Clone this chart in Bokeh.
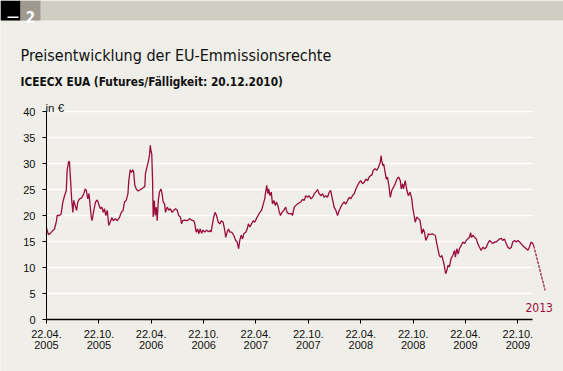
import pandas as pd
from bokeh.plotting import figure
from bokeh.models import Label, BoxAnnotation, Range1d, FixedTicker
from bokeh.embed import file_html
from bokeh.resources import INLINE

# ---------------- data ----------------
dates = [
    "2005-04-22", "2005-04-29", "2005-05-06", "2005-05-14", "2005-05-20", "2005-05-27", "2005-05-29",
    "2005-06-06", "2005-06-12", "2005-06-18", "2005-06-24", "2005-06-30", "2005-07-03", "2005-07-08",
    "2005-07-11", "2005-07-15", "2005-07-19", "2005-07-23", "2005-07-26", "2005-07-31", "2005-08-05",
    "2005-08-09", "2005-08-15", "2005-08-23", "2005-08-30", "2005-09-04", "2005-09-08", "2005-09-13",
    "2005-09-17", "2005-09-20", "2005-09-25", "2005-09-28", "2005-10-04", "2005-10-10", "2005-10-16",
    "2005-10-21", "2005-10-27", "2005-11-01", "2005-11-06", "2005-11-10", "2005-11-15", "2005-11-20",
    "2005-11-25", "2005-11-30", "2005-12-06", "2005-12-11", "2005-12-18", "2005-12-25", "2006-01-02",
    "2006-01-08", "2006-01-14", "2006-01-19", "2006-01-25", "2006-01-31", "2006-02-03", "2006-02-08",
    "2006-02-12", "2006-02-17", "2006-02-20", "2006-02-24", "2006-03-01", "2006-03-08", "2006-03-16",
    "2006-03-24", "2006-03-31", "2006-04-02", "2006-04-07", "2006-04-12", "2006-04-16", "2006-04-19",
    "2006-04-22", "2006-04-24", "2006-04-27", "2006-04-29", "2006-05-03", "2006-05-06", "2006-05-10",
    "2006-05-13", "2006-05-17", "2006-05-21", "2006-05-26", "2006-05-30", "2006-06-03", "2006-06-08",
    "2006-06-11", "2006-06-17", "2006-06-23", "2006-06-28", "2006-07-04", "2006-07-10", "2006-07-16",
    "2006-07-22", "2006-07-27", "2006-08-02", "2006-08-06", "2006-08-10", "2006-08-17", "2006-08-26",
    "2006-09-03", "2006-09-10", "2006-09-17", "2006-09-21", "2006-09-26", "2006-10-01", "2006-10-05",
    "2006-10-10", "2006-10-15", "2006-10-20", "2006-10-26", "2006-11-01", "2006-11-07", "2006-11-15",
    "2006-11-17", "2006-11-22", "2006-11-26", "2006-12-01", "2006-12-06", "2006-12-12", "2006-12-17",
    "2006-12-23", "2006-12-29", "2007-01-03", "2007-01-07", "2007-01-12", "2007-01-17", "2007-01-21",
    "2007-01-28", "2007-02-04", "2007-02-11", "2007-02-16", "2007-02-21", "2007-02-25", "2007-03-02",
    "2007-03-07", "2007-03-11", "2007-03-18", "2007-03-23", "2007-03-27", "2007-04-01", "2007-04-07",
    "2007-04-13", "2007-04-18", "2007-04-24", "2007-04-30", "2007-05-06", "2007-05-12", "2007-05-18",
    "2007-05-23", "2007-05-27", "2007-05-30", "2007-06-03", "2007-06-06", "2007-06-10", "2007-06-15",
    "2007-06-19", "2007-06-24", "2007-06-29", "2007-07-03", "2007-07-08", "2007-07-13", "2007-07-17",
    "2007-07-22", "2007-07-29", "2007-08-04", "2007-08-09", "2007-08-16", "2007-08-24", "2007-08-28",
    "2007-09-03", "2007-09-08", "2007-09-14", "2007-09-20", "2007-09-26", "2007-10-02", "2007-10-08",
    "2007-10-13", "2007-10-19", "2007-10-25", "2007-10-31", "2007-11-06", "2007-11-12", "2007-11-17",
    "2007-11-23", "2007-11-29", "2007-12-05", "2007-12-11", "2007-12-16", "2007-12-22", "2007-12-28",
    "2008-01-03", "2008-01-08", "2008-01-14", "2008-01-20", "2008-01-26", "2008-02-01", "2008-02-07",
    "2008-02-12", "2008-02-18", "2008-02-24", "2008-03-01", "2008-03-07", "2008-03-13", "2008-03-18",
    "2008-03-24", "2008-03-30", "2008-04-05", "2008-04-11", "2008-04-17", "2008-04-22", "2008-04-28",
    "2008-05-04", "2008-05-10", "2008-05-16", "2008-05-21", "2008-05-27", "2008-05-30", "2008-06-05",
    "2008-06-11", "2008-06-17", "2008-06-23", "2008-06-29", "2008-07-02", "2008-07-04", "2008-07-08",
    "2008-07-11", "2008-07-16", "2008-07-20", "2008-07-24", "2008-07-29", "2008-08-03", "2008-08-08",
    "2008-08-14", "2008-08-20", "2008-08-26", "2008-09-01", "2008-09-07", "2008-09-10", "2008-09-15",
    "2008-09-18", "2008-09-24", "2008-09-30", "2008-10-05", "2008-10-11", "2008-10-17", "2008-10-20",
    "2008-10-25", "2008-10-29", "2008-11-03", "2008-11-09", "2008-11-15", "2008-11-21", "2008-11-26",
    "2008-11-30", "2008-12-05", "2008-12-10", "2008-12-14", "2008-12-20", "2008-12-26", "2009-01-02",
    "2009-01-07", "2009-01-11", "2009-01-16", "2009-01-21", "2009-01-25", "2009-01-30", "2009-02-05",
    "2009-02-08", "2009-02-12", "2009-02-16", "2009-02-20", "2009-02-25", "2009-03-03", "2009-03-09",
    "2009-03-15", "2009-03-18", "2009-03-23", "2009-03-28", "2009-04-01", "2009-04-07", "2009-04-13",
    "2009-04-19", "2009-04-25", "2009-04-30", "2009-05-06", "2009-05-10", "2009-05-13", "2009-05-18",
    "2009-05-24", "2009-05-30", "2009-06-04", "2009-06-10", "2009-06-16", "2009-06-22", "2009-06-28",
    "2009-07-04", "2009-07-09", "2009-07-15", "2009-07-21", "2009-07-27", "2009-08-01", "2009-08-07",
    "2009-08-13", "2009-08-19", "2009-08-25", "2009-08-30", "2009-09-05", "2009-09-11", "2009-09-17",
    "2009-09-23", "2009-09-29", "2009-10-04", "2009-10-10", "2009-10-16", "2009-10-22", "2009-10-28",
    "2009-11-02", "2009-11-08", "2009-11-14", "2009-11-20", "2009-11-26", "2009-12-01", "2009-12-07",
    "2009-12-13", "2009-12-16",
]
values = [
    17.6, 16.3, 16.6, 17.1, 17.4, 19.0, 20.0,
    20.0, 20.3, 22.6, 23.8, 24.8, 28.7, 30.3,
    30.4, 26.7, 22.9, 20.6, 22.9, 21.9, 21.0,
    22.6, 23.2, 23.4, 24.2, 25.1, 24.8, 23.2,
    24.2, 22.6, 19.7, 19.0, 21.0, 22.6, 23.0,
    22.2, 21.3, 21.6, 20.6, 21.3, 20.0, 21.0,
    18.1, 18.7, 19.6, 19.0, 19.4, 19.0, 19.7,
    20.6, 21.0, 22.6, 22.9, 24.2, 26.7, 28.8,
    28.3, 28.8, 28.3, 25.8, 25.1, 24.7, 25.0,
    25.3, 25.6, 28.0, 29.3, 30.3, 31.5, 33.5,
    32.2, 31.9, 26.7, 19.7, 22.9, 20.0, 21.6,
    19.0, 22.9, 24.5, 25.1, 24.2, 22.6, 22.2,
    20.6, 21.6, 21.0, 21.3, 20.6, 21.0, 21.3,
    21.0, 20.0, 19.7, 18.4, 19.0, 19.1, 19.0,
    19.4, 19.1, 19.0, 18.5, 16.8, 17.4, 16.5,
    17.4, 16.6, 17.2, 16.8, 17.2, 16.9, 17.1,
    16.8, 18.4, 19.7, 20.6, 20.0, 18.7, 18.4,
    19.0, 18.7, 17.4, 15.8, 16.8, 17.4, 16.8,
    16.8, 16.2, 15.2, 14.9, 13.6, 15.2, 16.2,
    15.5, 16.5, 16.8, 17.4, 18.4, 17.8, 18.4,
    19.0, 18.7, 19.4, 20.0, 20.6, 21.0, 22.2,
    23.2, 24.8, 25.8, 24.2, 25.1, 23.8, 24.5,
    22.2, 22.9, 21.9, 22.6, 21.9, 20.6, 20.0,
    20.6, 21.0, 21.6, 20.6, 20.3, 20.4, 20.0,
    21.6, 21.9, 22.2, 22.4, 22.6, 23.1, 22.9,
    23.8, 23.5, 23.8, 23.2, 23.5, 24.2, 24.5,
    25.0, 24.2, 23.8, 24.2, 23.5, 23.8, 23.5,
    24.5, 24.8, 23.2, 21.6, 21.0, 20.0, 21.0,
    21.6, 22.2, 22.6, 22.2, 22.9, 23.5, 23.2,
    23.8, 24.2, 25.1, 25.8, 26.4, 26.7, 26.1,
    26.4, 27.0, 26.7, 27.4, 27.7, 27.7, 28.7,
    29.0, 28.7, 29.3, 30.3, 31.5, 30.6, 29.6,
    29.9, 28.3, 27.0, 27.4, 25.8, 23.5, 24.8,
    25.4, 26.1, 27.0, 27.4, 26.7, 25.1, 26.1,
    25.1, 26.7, 24.8, 23.8, 24.5, 23.2, 21.6,
    20.0, 18.7, 19.7, 19.4, 19.0, 16.5, 17.4,
    16.8, 15.2, 15.8, 16.5, 16.3, 16.5, 16.3,
    16.2, 14.9, 13.6, 12.3, 12.0, 12.3, 11.0,
    10.1, 8.8, 9.4, 10.4, 10.1, 11.7, 12.3,
    13.3, 12.0, 13.6, 12.6, 13.6, 14.2, 14.9,
    14.6, 15.2, 15.5, 15.8, 16.7, 15.8, 16.2,
    15.8, 15.5, 14.6, 13.9, 13.3, 13.9, 13.6,
    13.9, 14.6, 15.2, 14.9, 14.6, 14.9, 14.9,
    15.2, 15.5, 15.6, 15.2, 15.5, 14.6, 13.9,
    13.6, 13.9, 14.9, 15.2, 14.9, 15.2, 14.9,
    14.6, 14.2, 13.9, 13.6, 13.3, 13.9, 14.9,
    14.6, 14.2,
]
proj_dates = ["2009-12-16", "2010-01-25"]
proj_values = [14.2, 5.6]

x_tick_dates = ["2005-04-22", "2005-10-22", "2006-04-22", "2006-10-22", "2007-04-22",
                "2007-10-22", "2008-04-22", "2008-10-22", "2009-04-22", "2009-10-22"]
x_tick_labels = ["22.04.\n2005", "22.10.\n2005", "22.04.\n2006", "22.10.\n2006", "22.04.\n2007",
                 "22.10.\n2007", "22.04.\n2008", "22.10.\n2008", "22.04.\n2009", "22.10.\n2009"]
y_ticks = [0, 5, 10, 15, 20, 25, 30, 35, 40]

chart_no = "2"
title = "Preisentwicklung der EU-Emmissionsrechte"
subtitle = "ICEECX EUA (Futures/Fälligkeit: 20.12.2010)"
unit = "in €"
end_label = "2013"

# ---------------- styling ----------------
BG = "#efeee8"
HEADER = "#cfcec5"
NUMBOX = "#9f9a90"
RED = "#9a0d3e"
TXT = "#111111"
NARROW = "DejaVu Sans Condensed"
SANS = "Liberation Sans"

PW, PH = 563, 371           # whole picture
FX0 = 46                    # page x of 22.04.2005 (y axis)
FY1 = 319                   # page y of value 0 (x axis)
UNIT_PX = 5.2               # px per euro in the reference

start_ms = pd.Timestamp(x_tick_dates[0]).value / 1e6
last_tick_ms = pd.Timestamp(x_tick_dates[-1]).value / 1e6
px_per_ms = 471.4 / (last_tick_ms - start_ms)


def X(px):  # page x -> data x
    return start_ms + (px - FX0) / px_per_ms


def Y(py):  # page y -> data y
    return (FY1 - py) / UNIT_PX


p = figure(width=PW, height=PH, output_backend="svg", toolbar_location=None,
           x_axis_type="datetime",
           x_range=Range1d(X(0), X(PW)), y_range=Range1d(Y(PH), Y(0)),
           min_border=0, min_border_left=0, min_border_right=0,
           min_border_top=0, min_border_bottom=0)
p.background_fill_color = BG
p.border_fill_color = BG
p.outline_line_color = None
p.xgrid.visible = False
p.ygrid.visible = False

# header strip
for l, r, t, b, c in [(0, PW, 0, 20, HEADER), (0, 20, 0, 20, "black"), (20, 40, 0, 20, NUMBOX),
                      (7, 18, 16, 17.5, "white")]:
    p.add_layout(BoxAnnotation(left=X(l), right=X(r), top=Y(t), bottom=Y(b), fill_color=c,
                               fill_alpha=1, line_color=None, level="underlay"))
p.add_layout(Label(x=X(30), y=Y(16.5), text=chart_no, text_align="center",
                   text_baseline="alphabetic", text_font=NARROW, text_font_style="bold",
                   text_font_size="15px", text_color="white"))
p.add_layout(Label(x=X(20), y=Y(55), text=title, text_baseline="alphabetic",
                   text_font=NARROW, text_font_size="16px", text_color=TXT))
p.add_layout(Label(x=X(20), y=Y(81.5), text=subtitle, text_baseline="alphabetic",
                   text_font=NARROW, text_font_style="bold", text_font_size="11.8px",
                   text_color=TXT))

# grid lines
grid_end = X(532)
gy = y_ticks[1:]
p.segment(x0=[start_ms] * len(gy), x1=[grid_end] * len(gy), y0=gy, y1=gy,
          line_color="white", line_width=1.6)

# data
p.line(x=pd.to_datetime(dates), y=values, line_color=RED, line_width=1.3)
p.line(x=pd.to_datetime(proj_dates), y=proj_values, line_color=RED, line_width=1.2,
       line_dash="3 1")

# axes, pinned to the data origin
xa = p.xaxis[0]
tick_ms = [pd.Timestamp(d).value / 1e6 for d in x_tick_dates]
xa.fixed_location = 0
xa.ticker = FixedTicker(ticks=tick_ms)
xa.major_label_overrides = {t: lab for t, lab in zip(tick_ms, x_tick_labels)}
xa.bounds = (start_ms, grid_end)
xa.axis_line_color = "black"
xa.axis_line_width = 1.5
xa.major_tick_line_color = "black"
xa.major_tick_out = 4
xa.major_tick_in = 0
xa.minor_tick_line_color = None
xa.major_label_text_font = SANS
xa.major_label_text_font_size = "11px"
xa.major_label_text_line_height = 0.95
xa.major_label_text_color = TXT
xa.major_label_standoff = 4

ya = p.yaxis[0]
ya.fixed_location = start_ms
ya.ticker = FixedTicker(ticks=y_ticks)
ya.bounds = (0, y_ticks[-1])
ya.axis_line_color = "black"
ya.axis_line_width = 1
ya.major_tick_line_color = "black"
ya.major_tick_out = 4
ya.major_tick_in = 0
ya.minor_tick_line_color = None
ya.major_label_text_font = SANS
ya.major_label_text_font_size = "11px"
ya.major_label_text_color = TXT
ya.major_label_standoff = 7

p.add_layout(Label(x=X(45), y=Y(107), text=unit, text_baseline="alphabetic",
                   text_font=SANS, text_font_size="11.5px", text_color=TXT))
p.add_layout(Label(x=pd.Timestamp(proj_dates[-1]).value / 1e6, y=Y(307), x_offset=-6,
                   text=end_label, text_align="center", text_baseline="alphabetic",
                   text_font=NARROW, text_font_size="12px", text_color=RED))

open("out.html", "w").write(file_html(p, INLINE))
